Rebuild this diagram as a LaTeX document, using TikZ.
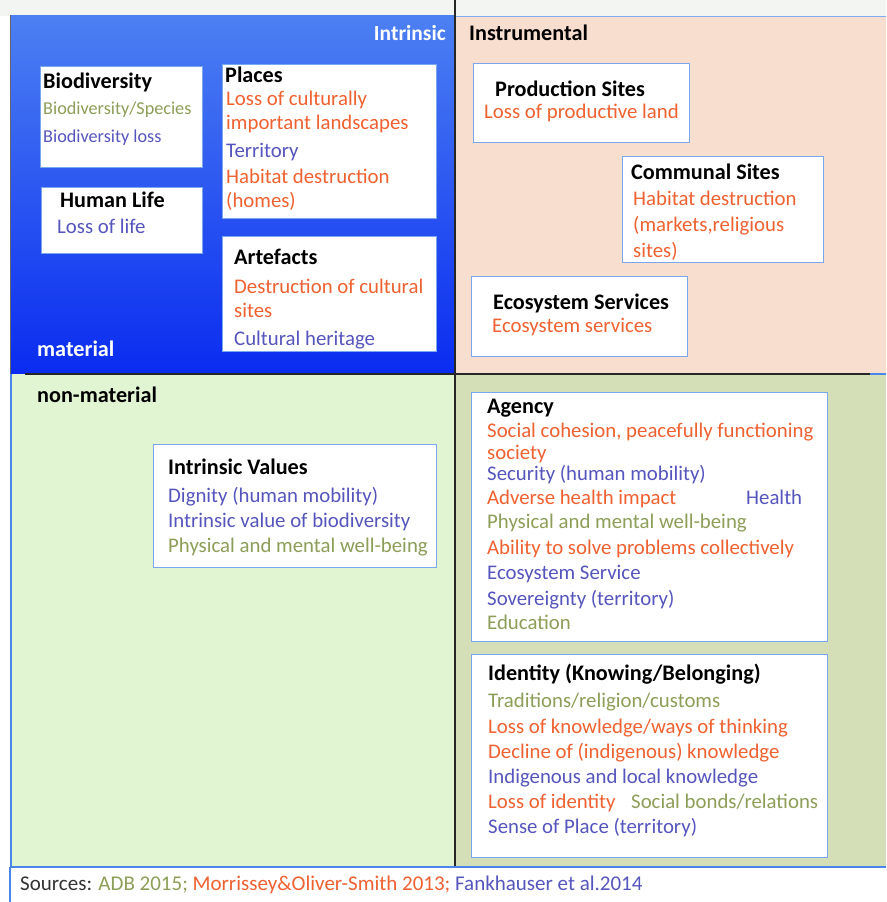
\documentclass[tikz,border=0pt]{standalone}
\usepackage{fontspec}
\setmainfont{Carlito}
\definecolor{orng}{HTML}{EF6130}
\definecolor{purp}{HTML}{5555BE}
\definecolor{olv}{HTML}{8C9E58}
\definecolor{cardline}{HTML}{7AA6EE}
\definecolor{bluetop}{HTML}{4C80F2}
\definecolor{bluebot}{HTML}{0A2CF0}
\definecolor{peach}{HTML}{F8DECF}
\definecolor{mint}{HTML}{E2F5D2}
\definecolor{sage}{HTML}{D4DFB8}
\definecolor{edgeblue}{HTML}{4A86EA}
\definecolor{topgrey}{HTML}{F3F5F3}
\begin{document}
\begin{tikzpicture}[x=1pt,y=-1pt,
  txt/.style={anchor=base west,inner sep=0pt,font=\fontsize{20.8}{24}\selectfont},
  small/.style={anchor=base west,inner sep=0pt,font=\fontsize{18.2}{21}\selectfont},
  head/.style={txt,font=\fontsize{22.2}{26}\selectfont\bfseries},
  card/.style={draw=cardline,fill=white,line width=1.3pt,inner sep=0pt,anchor=north west},
  divider/.style={line width=1.4pt,black!85}]
\useasboundingbox (0,0) rectangle (886,902);
% page background
\fill[topgrey] (0,0) rectangle (886,16);
\fill[white] (0,866) rectangle (886,902);
% quadrants
\shade[top color=bluetop,bottom color=bluebot] (10,15) rectangle (455,374);
\fill[peach] (455,16) rectangle (886,374);
\fill[mint] (10,374) rectangle (455,866);
\fill[sage] (455,374) rectangle (886,866);
% quadrant edges
\draw[line width=1pt,black!60] (10,15) -- (10,374);
\draw[line width=1pt,edgeblue!70] (455,16) -- (886,16);
\draw[line width=1.2pt,edgeblue] (11,374) -- (11,867);
\draw[line width=1.6pt,edgeblue] (10,867) -- (886,867);
\draw[line width=1.2pt,edgeblue] (10,867) -- (10,902);
% axes
\draw[divider] (455,0) -- (455,866);
\draw[divider] (25,374) -- (870,374);
\draw[line width=1.4pt,edgeblue] (870,374) -- (886,374);

% quadrant labels
\node[head,anchor=base east,text=white,font=\fontsize{21.5}{26}\selectfont\bfseries] (lIntr) at (446,40) {Intrinsic};
\node[head,text=white] (lMat) at (37,356) {material};
\node[head] (lInstr) at (469,40) {Instrumental};
\node[head] (lNonmat) at (37,402) {non-material};

% ---- Intrinsic / material ----
\node[card,minimum width=162,minimum height=101] (bBio) at (40,66) {};
\node[head] (tBio) at (43,88) {Biodiversity};
\node[small,text=olv] (tBio1) at (43,114) {Biodiversity/Species};
\node[small,text=purp] (tBio2) at (43,142) {Biodiversity loss};

\node[card,minimum width=161,minimum height=66] (bHum) at (41,187) {};
\node[head] (tHum) at (60,207) {Human Life};
\node[txt,text=purp] (tHum1) at (57,233) {Loss of life};

\node[card,minimum width=214,minimum height=154] (bPla) at (222,64) {};
\node[head] (tPla) at (225,82) {Places};
\node[txt,text=orng] (tPla1) at (226,105) {Loss of culturally};
\node[txt,text=orng] (tPla2) at (226,129) {important landscapes};
\node[txt,text=purp] (tPla3) at (226,157) {Territory};
\node[txt,text=orng] (tPla4) at (226,183) {Habitat destruction};
\node[txt,text=orng] (tPla5) at (226,207) {(homes)};

\node[card,minimum width=214,minimum height=115] (bArt) at (222,236) {};
\node[head] (tArt) at (234,264) {Artefacts};
\node[txt,text=orng] (tArt1) at (234,293) {Destruction of cultural};
\node[txt,text=orng] (tArt2) at (234,317) {sites};
\node[txt,text=purp] (tArt3) at (234,345) {Cultural heritage};

% ---- Instrumental / material ----
\node[card,minimum width=216,minimum height=79] (bPro) at (473,63) {};
\node[head] (tPro) at (495,96) {Production Sites};
\node[txt,text=orng] (tPro1) at (484,118) {Loss of productive land};

\node[card,minimum width=201,minimum height=106] (bCom) at (622,156) {};
\node[head] (tCom) at (631,179) {Communal Sites};
\node[txt,text=orng] (tCom1) at (633,205) {Habitat destruction};
\node[txt,text=orng] (tCom2) at (633,231) {(markets,religious};
\node[txt,text=orng] (tCom3) at (633,257) {sites)};

\node[card,minimum width=216,minimum height=80] (bEco) at (471,276) {};
\node[head] (tEco) at (493,309) {Ecosystem Services};
\node[txt,text=orng] (tEco1) at (492,332) {Ecosystem services};

% ---- Intrinsic / non-material ----
\node[card,minimum width=283,minimum height=123] (bVal) at (153,444) {};
\node[head] (tVal) at (168,474) {Intrinsic Values};
\node[txt,text=purp] (tVal1) at (168,502) {Dignity (human mobility)};
\node[txt,text=purp] (tVal2) at (168,527) {Intrinsic value of biodiversity};
\node[txt,text=olv] (tVal3) at (168,552) {Physical and mental well-being};

% ---- Instrumental / non-material ----
\node[card,minimum width=356,minimum height=249] (bAge) at (471,392) {};
\node[head] (tAge) at (487,413) {Agency};
\node[txt,text=orng] (tAge1) at (487,437) {Social cohesion, peacefully functioning};
\node[txt,text=orng] (tAge2) at (487,459) {society};
\node[txt,text=purp] (tAge3) at (487,480) {Security (human mobility)};
\node[txt,text=orng] (tAge4) at (487,504) {Adverse health impact};
\node[txt,text=purp] (tAge5) at (746,504) {Health};
\node[txt,text=olv] (tAge6) at (487,528) {Physical and mental well-being};
\node[txt,text=orng] (tAge7) at (487,554) {Ability to solve problems collectively};
\node[txt,text=purp] (tAge8) at (487,579) {Ecosystem Service};
\node[txt,text=purp] (tAge9) at (487,605) {Sovereignty (territory)};
\node[txt,text=olv] (tAge10) at (487,629) {Education};

\node[card,minimum width=356,minimum height=203] (bIde) at (471,654) {};
\node[head] (tIde) at (488,680) {Identity (Knowing/Belonging)};
\node[txt,text=olv] (tIde1) at (488,707) {Traditions/religion/customs};
\node[txt,text=orng] (tIde2) at (488,733) {Loss of knowledge/ways of thinking};
\node[txt,text=orng] (tIde3) at (488,758) {Decline of (indigenous) knowledge};
\node[txt,text=purp] (tIde4) at (488,783) {Indigenous and local knowledge};
\node[txt,text=orng] (tIde5) at (488,808) {Loss of identity};
\node[txt,text=olv] (tIde6) at (631,808) {Social bonds/relations};
\node[txt,text=purp] (tIde7) at (488,833) {Sense of Place (territory)};

% ---- sources ----
\node[txt,font=\fontsize{21}{24}\selectfont] (src) at (20,890)
  {\textcolor{black!80}{Sources:} \textcolor{olv}{ADB 2015;} \textcolor{orng}{Morrissey\&Oliver-Smith 2013;} \textcolor{purp}{Fankhauser et al.2014}};
\end{tikzpicture}
\end{document}
